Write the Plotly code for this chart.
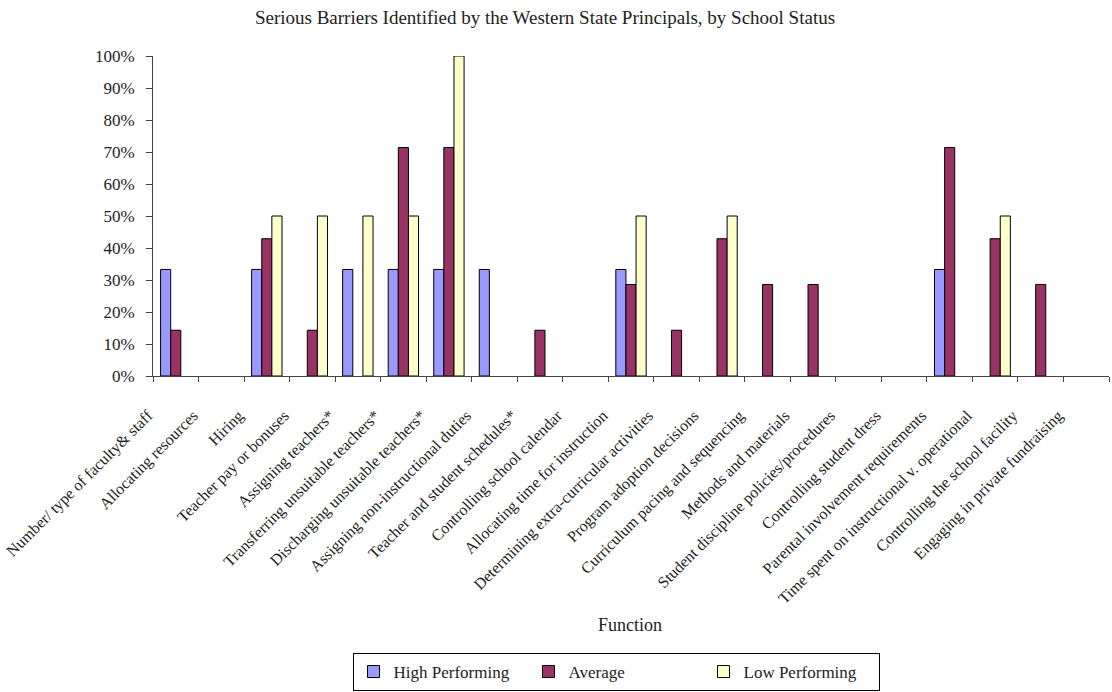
import plotly.graph_objects as go

categories = [
    "Number/ type of faculty& staff",
    "Allocating resources",
    "Hiring",
    "Teacher pay or bonuses",
    "Assigning teachers*",
    "Transferring unsuitable teachers*",
    "Discharging unsuitable teachers*",
    "Assigning non-instructional duties",
    "Teacher and student schedules*",
    "Controlling school calendar",
    "Allocating time for instruction",
    "Determining extra-curricular activities",
    "Program adoption decisions",
    "Curriculum pacing and sequencing",
    "Methods and materials",
    "Student discipline policies/procedures",
    "Controlling student dress",
    "Parental involvement requirements",
    "Time spent on instructional v. operational",
    "Controlling the school facility",
    "Engaging in private fundraising",
]

high_performing = [0.333, 0, 0.333, 0, 0.333, 0.333, 0.333, 0.333, 0, 0, 0.333,
                   0, 0, 0, 0, 0, 0, 0.333, 0, 0, 0]
average = [0.143, 0, 0.429, 0.143, 0, 0.714, 0.714, 0, 0.143, 0, 0.286,
           0.143, 0.429, 0.286, 0.286, 0, 0, 0.714, 0.429, 0.286, 0]
low_performing = [0, 0, 0.5, 0.5, 0.5, 0.5, 1.0, 0, 0, 0, 0.5,
                  0, 0.5, 0, 0, 0, 0, 0, 0.5, 0, 0]

series = [
    ("High Performing", high_performing, "#9999FF"),
    ("Average", average, "#993366"),
    ("Low Performing", low_performing, "#FFFFCC"),
]

FONT = "Liberation Serif"
PLOT_TOP, PLOT_BOTTOM = 56, 377

def paper_y(px):
    return (PLOT_BOTTOM - px) / (PLOT_BOTTOM - PLOT_TOP)

fig = go.Figure()
for name, vals, color in series:
    # zero values draw no bar (no outline on the baseline)
    fig.add_trace(go.Bar(
        name=name, x=categories, y=[v if v else None for v in vals],
        marker=dict(color=color, line=dict(color="black", width=1)),
    ))

fig.update_layout(
    width=1112, height=692,
    margin=dict(l=153, r=3, t=PLOT_TOP, b=692 - PLOT_BOTTOM),
    paper_bgcolor="white", plot_bgcolor="white",
    font=dict(family=FONT, color="#222", size=15),
    barmode="group", bargap=0.333, bargroupgap=0,
    title=dict(text="Serious Barriers Identified by the Western State Principals, by School Status",
               x=545 / 1112, xanchor="center", xref="container",
               y=1 - 17 / 692, yanchor="middle", yref="container",
               font=dict(family=FONT, size=19, color="#222")),
    xaxis=dict(
        tickangle=-45, ticks="outside", tickson="boundaries", ticklen=5,
        tickcolor="#444", showline=True, linecolor="#444", linewidth=1,
        tickfont=dict(family=FONT, size=16, color="#222"),
        ticklabelshift=-28, ticklabelstandoff=23,
        showgrid=False, zeroline=False,
    ),
    yaxis=dict(
        range=[0, 1], tickformat=".0%", dtick=0.1, ticks="outside", ticklen=6,
        tickcolor="#444", showline=True, linecolor="#444", linewidth=1,
        tickfont=dict(family=FONT, size=17, color="#222"),
        ticklabelstandoff=8,
        showgrid=False, zeroline=False,
    ),
    legend=dict(
        orientation="h", x=(616 - 153) / 956, xanchor="center",
        y=paper_y(691), yanchor="bottom",
        bordercolor="black", borderwidth=1, bgcolor="white",
        font=dict(family=FONT, size=17, color="#222"),
        entrywidth=130, entrywidthmode="pixels",
        itemclick=False,
    ),
    annotations=[dict(
        text="Function", x=(630 - 153) / 956, xref="paper", y=paper_y(627), yref="paper",
        showarrow=False, xanchor="center", yanchor="middle",
        font=dict(family=FONT, size=18, color="#222"),
    )],
)

fig.write_html("out.html")
